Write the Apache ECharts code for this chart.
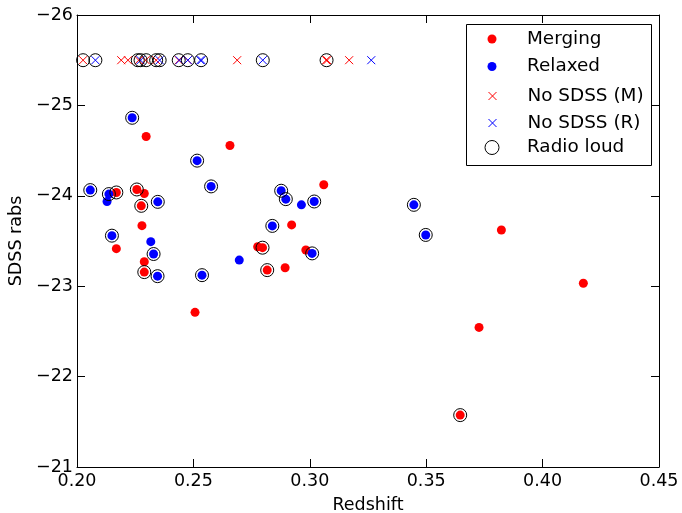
<!DOCTYPE html>
<html>
<head>
<meta charset="utf-8">
<script src="https://cdn.jsdelivr.net/npm/echarts@6/dist/echarts.min.js"></script>
<style>html,body{margin:0;padding:0;background:#fff;}#c{width:682px;height:513px;}</style>
</head>
<body>
<div id="c"></div>
<script>
// ---- data ----
const xTicks = [0.20, 0.25, 0.30, 0.35, 0.40, 0.45];
const yTicks = [-26, -25, -24, -23, -22, -21];

const mergingX = [0.2297, 0.2657, 0.3060, 0.2169, 0.2257, 0.2289, 0.2276, 0.2279, 0.2169, 0.2289, 0.2289,
                  0.2776, 0.2797, 0.2817, 0.2894, 0.2922, 0.2983, 0.3823, 0.4175, 0.3727, 0.3646, 0.2507];
const mergingY = [-24.656, -24.556, -24.122, -24.037, -24.070, -24.026, -23.889, -23.670, -23.415, -23.270, -23.156,
                  -23.437, -23.426, -23.178, -23.204, -23.678, -23.400, -23.622, -23.033, -22.544, -21.574, -22.711];

const relaxedX = [0.2237, 0.2516, 0.2576, 0.2057, 0.2137, 0.2129, 0.2347, 0.2150, 0.2317, 0.2329, 0.2346,
                  0.2537, 0.2697, 0.2839, 0.2877, 0.2897, 0.2964, 0.3019, 0.3010, 0.3447, 0.3498];
const relaxedY = [-24.863, -24.389, -24.104, -24.063, -24.019, -23.937, -23.933, -23.559, -23.493, -23.356, -23.111,
                  -23.122, -23.289, -23.667, -24.056, -23.963, -23.900, -23.937, -23.363, -23.900, -23.567];

const noSdssMX = [0.2026, 0.2190, 0.2219, 0.2265, 0.2295, 0.2340, 0.2437, 0.2476, 0.2688, 0.3070, 0.3075, 0.3169];
const noSdssMY = [-25.5, -25.5, -25.5, -25.5, -25.5, -25.5, -25.5, -25.5, -25.5, -25.5, -25.5, -25.5];

const noSdssRX = [0.2079, 0.2273, 0.2355, 0.2440, 0.2476, 0.2530, 0.2535, 0.2798, 0.3264];
const noSdssRY = [-25.5, -25.5, -25.5, -25.5, -25.5, -25.5, -25.5, -25.5, -25.5];

const radioX = [0.2237, 0.2516, 0.2576, 0.2057, 0.2137, 0.2169, 0.2257, 0.2276, 0.2347, 0.2150, 0.2329, 0.2289,
                0.2346, 0.2537, 0.2797, 0.2817, 0.2839, 0.2877, 0.2897, 0.3019, 0.3010, 0.3447, 0.3498, 0.3646,
                0.2026, 0.2079, 0.2261, 0.2273, 0.2297, 0.2340, 0.2355, 0.2437, 0.2476, 0.2533, 0.2798, 0.3072];
const radioY = [-24.863, -24.389, -24.104, -24.063, -24.019, -24.037, -24.070, -23.889, -23.933, -23.559, -23.356, -23.156,
                -23.111, -23.122, -23.426, -23.178, -23.667, -24.056, -23.963, -23.937, -23.363, -23.900, -23.567, -21.574,
                -25.5, -25.5, -25.5, -25.5, -25.5, -25.5, -25.5, -25.5, -25.5, -25.5, -25.5, -25.5];

const seriesNames = ['Merging', 'Relaxed', 'No SDSS (M)', 'No SDSS (R)', 'Radio loud'];

// ---- chart ----
function pairs(xs, ys) { return xs.map((x, i) => [x, ys[i]]); }
const FONT = 'DejaVu Sans';
const TICK_FS = 17.5;
const LEG_FS = 18.4;
const crossPath = 'path://M0,0L10,10M10,0L0,10';
const crossLegend = 'path://M0,0M26,0L34,8M34,0L26,8M60,8';

const axisLine = { show: true, onZero: false, lineStyle: { color: '#000', width: 1 } };
const axisTick = { show: true, inside: true, length: 8, lineStyle: { color: '#000', width: 1 } };

function legendItem(name, icon, h, left, top) {
  return {
    show: true, left: left, top: top, orient: 'vertical', padding: 0,
    itemWidth: 60, itemHeight: h, selectedMode: false,
    data: [{ name: name, icon: icon }],
    itemStyle: { borderWidth: 1 },
    textStyle: { fontFamily: FONT, fontSize: LEG_FS, color: '#000', lineHeight: 20 }
  };
}

const chart = echarts.init(document.getElementById('c'), null, { renderer: 'canvas' });
chart.setOption({
  animation: false,
  backgroundColor: '#fff',
  grid: { left: 77, right: 23, top: 15, bottom: 46, containLabel: false, outerBoundsMode: 'none' },
  xAxis: [{
    type: 'value', position: 'bottom', min: xTicks[0], max: xTicks[xTicks.length - 1], interval: 0.05,
    axisLine: axisLine, axisTick: axisTick, splitLine: { show: false },
    axisLabel: { fontFamily: FONT, fontSize: TICK_FS, color: '#000', margin: 5, formatter: v => v.toFixed(2) },
    name: 'Redshift', nameLocation: 'middle', nameGap: 29,
    nameTextStyle: { fontFamily: FONT, fontSize: TICK_FS, color: '#000' }
  }, {
    type: 'value', position: 'top', min: xTicks[0], max: xTicks[xTicks.length - 1], interval: 0.05,
    axisLine: axisLine, axisTick: axisTick, splitLine: { show: false }, axisLabel: { show: false }
  }],
  yAxis: [{
    type: 'value', position: 'left', inverse: true, min: yTicks[0], max: yTicks[yTicks.length - 1], interval: 1,
    axisLine: axisLine, axisTick: axisTick, splitLine: { show: false },
    axisLabel: { fontFamily: FONT, fontSize: TICK_FS, color: '#000', margin: 4,
                 formatter: v => (v < 0 ? '\u2212' : '') + Math.abs(v) },
    name: 'SDSS rabs', nameLocation: 'middle', nameGap: 45, nameRotate: 90,
    nameTextStyle: { fontFamily: FONT, fontSize: TICK_FS, color: '#000' }
  }, {
    type: 'value', position: 'right', inverse: true, min: yTicks[0], max: yTicks[yTicks.length - 1], interval: 1,
    axisLine: axisLine, axisTick: axisTick, splitLine: { show: false }, axisLabel: { show: false }
  }],
  graphic: [{
    type: 'rect', left: 466, top: 24, z: 3,
    shape: { width: 185, height: 141 },
    style: { fill: '#fff', stroke: '#000', lineWidth: 1 }
  }],
  legend: [
    legendItem(seriesNames[0], 'circle', 9, 487.5, 29),
    legendItem(seriesNames[1], 'circle', 9, 487.5, 56.5),
    legendItem(seriesNames[2], crossLegend, 8, 462, 86),
    legendItem(seriesNames[3], crossLegend, 8, 462, 113),
    legendItem(seriesNames[4], 'circle', 14, 484.5, 137.5)
  ],
  series: [{
    name: seriesNames[0], type: 'scatter', xAxisIndex: 0, yAxisIndex: 0,
    data: pairs(mergingX, mergingY), symbol: 'circle', symbolSize: 9,
    itemStyle: { color: '#ff0000', opacity: 1 }, emphasis: { disabled: true }, silent: true
  }, {
    name: seriesNames[1], type: 'scatter', xAxisIndex: 0, yAxisIndex: 0,
    data: pairs(relaxedX, relaxedY), symbol: 'circle', symbolSize: 9,
    itemStyle: { color: '#0000ff', opacity: 1 }, emphasis: { disabled: true }, silent: true
  }, {
    name: seriesNames[2], type: 'scatter', xAxisIndex: 0, yAxisIndex: 0,
    data: pairs(noSdssMX, noSdssMY), symbol: crossPath, symbolSize: 8,
    itemStyle: { color: 'rgba(0,0,0,0)', borderColor: '#ff0000', borderWidth: 1, opacity: 1 },
    emphasis: { disabled: true }, silent: true
  }, {
    name: seriesNames[3], type: 'scatter', xAxisIndex: 0, yAxisIndex: 0,
    data: pairs(noSdssRX, noSdssRY), symbol: crossPath, symbolSize: 8,
    itemStyle: { color: 'rgba(0,0,0,0)', borderColor: '#0000ff', borderWidth: 1, opacity: 1 },
    emphasis: { disabled: true }, silent: true
  }, {
    name: seriesNames[4], type: 'scatter', xAxisIndex: 0, yAxisIndex: 0,
    data: pairs(radioX, radioY), symbol: 'circle', symbolSize: 13,
    itemStyle: { color: 'rgba(0,0,0,0)', borderColor: '#000', borderWidth: 1, opacity: 1 },
    emphasis: { disabled: true }, silent: true
  }]
});
</script>
</body>
</html>
